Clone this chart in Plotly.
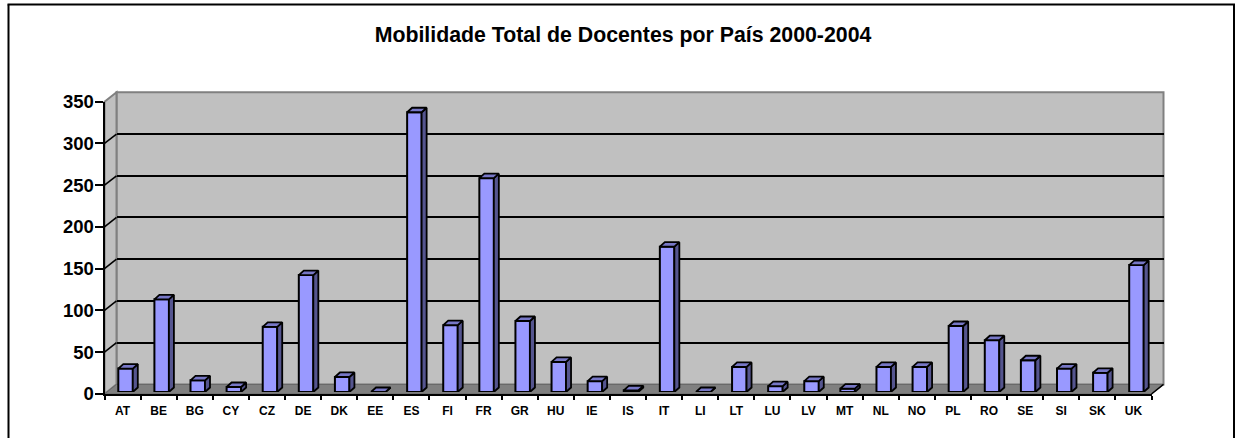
import plotly.graph_objects as go

categories = ["AT","BE","BG","CY","CZ","DE","DK","EE","ES","FI","FR","GR","HU","IE","IS",
              "IT","LI","LT","LU","LV","MT","NL","NO","PL","RO","SE","SI","SK","UK"]
values = [28,111,14,6,78,140,18,0,335,80,256,85,36,13,2,174,0,30,7,13,4,30,30,79,62,38,28,23,152]
y_ticks = [0,50,100,150,200,250,300,350]
title_text = "Mobilidade Total de Docentes por País 2000-2004"

W, H = 1238, 438
YMAX = 350
FONT = "Liberation Sans, Arial, sans-serif"
BLACK = "#000000"
WALL = "#C0C0C0"
EDGE = "#808080"

def px(x): return x / W
def py(y): return 1 - y / H

# pixel frames: front plane (axes), back wall, and the mid plane holding the bars
FL, FR, FT, FB = 104.5, 1151.5, 101.7, 394.0
BL, BR, BT, BB = 116.5, 1163.5, 92.3, 384.4
ML, MR, MT, MB = 107.5, 1154.5, 99.7, 392.0

n = len(categories)
bar_w = 14.5 / ((MR - ML) / n)
dep_x = 5.0 / ((MR - ML) / n)
dep_y = 4.5 * YMAX / (MB - MT)

side_x, side_y, top_x, top_y = [], [], [], []
for i, v in enumerate(values):
    r = i + bar_w / 2
    l = i - bar_w / 2
    side_x += [r, r + dep_x, r + dep_x, r, r, None]
    side_y += [0, dep_y, v + dep_y, v, 0, None]
    top_x += [l, r, r + dep_x, l + dep_x, l, None]
    top_y += [v, v, v + dep_y, v + dep_y, v, None]

fig = go.Figure()
# carries the back wall axes, so that their gridlines are drawn
fig.add_trace(go.Scatter(x=list(range(n)), y=[None] * n, xaxis="x", yaxis="y", mode="lines",
                         showlegend=False, hoverinfo="skip"))
fig.add_trace(go.Bar(x=list(range(n)), y=values, width=bar_w, xaxis="x3", yaxis="y3",
                     marker=dict(color="#9999FF", line=dict(color=BLACK, width=2)),
                     cliponaxis=False, showlegend=False, hoverinfo="skip"))
fig.add_trace(go.Scatter(x=side_x, y=side_y, xaxis="x3", yaxis="y3", mode="lines", fill="toself",
                         fillcolor="#55558F", line=dict(color=BLACK, width=1.8),
                         cliponaxis=False, showlegend=False, hoverinfo="skip"))
fig.add_trace(go.Scatter(x=top_x, y=top_y, xaxis="x3", yaxis="y3", mode="lines", fill="toself",
                         fillcolor="#7777C6", line=dict(color=BLACK, width=1.8),
                         cliponaxis=False, showlegend=False, hoverinfo="skip"))
# carries the category axis of the front plane
fig.add_trace(go.Scatter(x=categories, y=[None] * n, xaxis="x2", yaxis="y2", mode="lines",
                         showlegend=False, hoverinfo="skip"))

def poly(pts, fill, line=None, width=0):
    d = "M " + " L ".join(f"{px(x)},{py(y)}" for x, y in pts) + " Z"
    return dict(type="path", path=d, xref="paper", yref="paper", layer="below",
                fillcolor=fill, line=dict(color=line or fill, width=width))

def seg(x0, y0, x1, y1, color, width):
    return dict(type="line", xref="paper", yref="paper", layer="below",
                x0=px(x0), y0=py(y0), x1=px(x1), y1=py(y1), line=dict(color=color, width=width))

shapes = [
    poly([(BL, BT), (BR, BT), (BR, BB), (BL, BB)], WALL, EDGE, 2),
    poly([(FL, FT), (BL, BT), (BL, BB), (FL, FB)], WALL, EDGE, 2),
    poly([(FL, FB), (BL, BB), (BR, BB), (FR, FB)], EDGE, "#666666", 1),
    seg(FR, FB, BR, BB, BLACK, 1.5),
]
for t in y_ticks[1:-1]:
    frac = t / YMAX
    shapes.append(seg(FL, FB - frac * (FB - FT), BL, BB - frac * (BB - BT), BLACK, 1.6))
# outer chart frame, open at the bottom of the picture
shapes += [seg(8.5, 438, 8.5, 4.5, BLACK, 2), seg(7.5, 4.5, 1235, 4.5, BLACK, 2), seg(1234, 4.5, 1234, 438, BLACK, 2)]

fig.update_layout(
    template="none",
    width=W, height=H, margin=dict(l=0, r=0, t=0, b=0, pad=0),
    paper_bgcolor="#FFFFFF", plot_bgcolor="rgba(0,0,0,0)",
    font=dict(family=FONT, color=BLACK), showlegend=False,
    title=dict(text="<b>" + title_text + "</b>", x=623 / W, xanchor="center", xref="paper",
               y=py(35), yanchor="middle", font=dict(family=FONT, size=21.3, color=BLACK)),
    shapes=shapes,
    # back wall with its gridlines
    xaxis=dict(domain=[px(BL), px(BR)], range=[-0.5, n - 0.5], anchor="y", visible=False),
    yaxis=dict(domain=[py(BB), py(BT)], range=[0, YMAX], anchor="x", tickmode="array",
               tickvals=y_ticks[1:-1], showgrid=True, gridcolor=BLACK, gridwidth=1.6,
               showticklabels=False, ticks="", showline=False, zeroline=False),
    # front plane with the axes that carry ticks and labels
    xaxis2=dict(domain=[px(FL), px(FR)], range=[-0.5, n - 0.5], anchor="y2", type="category",
                categoryorder="array", categoryarray=categories, tickson="boundaries",
                ticks="outside", ticklen=4, tickwidth=1.6, tickcolor=BLACK, showline=True,
                linecolor=BLACK, linewidth=2, showgrid=False, zeroline=False, tickangle=0,
                tickfont=dict(family=FONT, size=12, color=BLACK, weight="bold"), ticklabelstandoff=5),
    yaxis2=dict(domain=[py(FB), py(FT)], range=[0, YMAX], anchor="x2", tickmode="array",
                tickvals=y_ticks, ticks="outside", ticklen=8, tickwidth=1.6, tickcolor=BLACK,
                showline=True, linecolor=BLACK, linewidth=2, showgrid=False, zeroline=False,
                tickfont=dict(family=FONT, size=18.5, color=BLACK, weight="bold"), ticklabelstandoff=-3),
    # plane the bars stand on
    xaxis3=dict(domain=[px(ML), px(MR)], range=[-0.5, n - 0.5], anchor="y3", visible=False),
    yaxis3=dict(domain=[py(MB), py(MT)], range=[0, YMAX], anchor="x3", visible=False),
)

fig.write_html("out.html", config=dict(displayModeBar=False),
               post_script="document.body.style.margin='0';document.body.style.overflow='hidden';")
